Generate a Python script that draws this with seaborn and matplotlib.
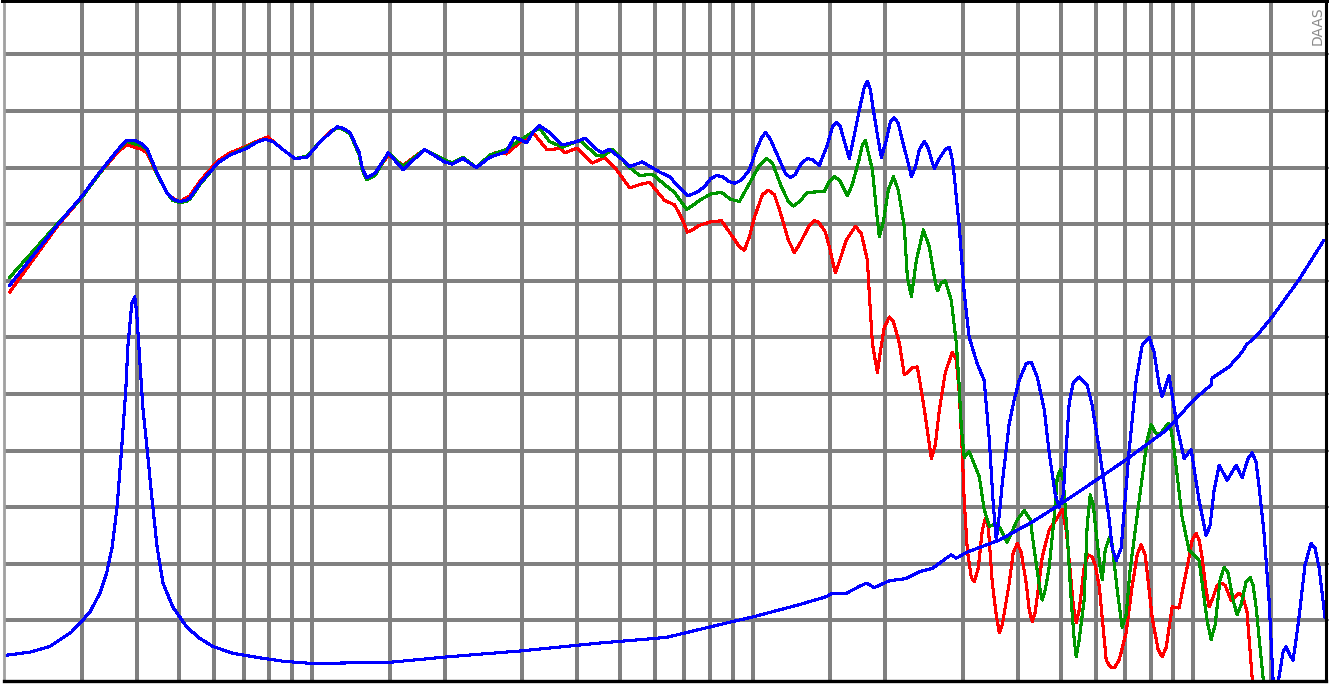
import pandas as pd
import seaborn as sns
import matplotlib.pyplot as plt
from matplotlib.ticker import FixedLocator, NullLocator

# SPL traces (Hz, dB), low band and high band
red_freq_lo = [20.6, 26.4, 30.1, 33.0, 36.3, 38.0, 41.1, 42.2, 44.5, 46.8,
               48.3, 50.1, 51.7, 52.8, 55.7, 61.1, 65.1, 71.1, 74.6, 79.4,
               85.8, 91.4, 97.3, 104, 110, 114, 117, 122, 128, 130,
               133, 136, 139, 149, 161, 180, 200, 208, 220, 236,
               260, 276, 296, 317, 341, 350, 365, 374, 399, 433,
               461, 491]
red_db_lo = [74.0, 79.8, 82.4, 84.5, 86.4, 87.0, 86.6, 86.3, 84.4, 82.8,
             82.3, 82.0, 82.3, 82.5, 83.8, 85.6, 86.3, 86.9, 87.3, 87.7,
             86.6, 85.8, 86.0, 87.2, 88.2, 88.5, 88.4, 88.0, 86.1, 85.0,
             84.1, 84.3, 84.5, 86.1, 85.2, 86.6, 85.5, 85.3, 85.8, 85.0,
             86.3, 86.2, 87.2, 88.1, 86.6, 86.6, 86.7, 86.3, 86.7, 85.4,
             85.9, 84.8]
red_freq_hi = [526, 554, 583, 631, 665, 693, 711, 730, 757, 802,
               850, 900, 933, 958, 983, 1009, 1052, 1086, 1120, 1150,
               1205, 1243, 1276, 1345, 1380, 1410, 1462, 1493, 1540, 1573,
               1631, 1710, 1764, 1821, 1839, 1869, 1918, 1948, 1989, 2042,
               2086, 2152, 2208, 2244, 2302, 2364, 2402, 2453, 2544, 2597,
               2652, 2736, 2838, 2898, 2943, 2990, 3020, 3070, 3134, 3184,
               3250, 3320, 3373, 3426, 3498, 3570, 3628, 3684, 3821, 3902,
               3986, 4068, 4176, 4243, 4310, 4377, 4540, 4708, 4884, 5040,
               5146, 5227, 5338, 5422, 5508, 5652, 5772, 5894, 5988, 6116,
               6342, 6476, 6612, 6786, 7038, 7262, 7457, 7612, 7774, 8060,
               8320, 8495, 8676, 8952, 9284, 9780, 9936, 10144, 10304, 10466,
               10690, 10858, 11028, 11322, 11560, 11804, 12178, 12438, 12698, 12968,
               13240, 13592, 13804]
red_db_hi = [83.2, 83.5, 83.7, 82.1, 81.7, 80.4, 79.3, 79.5, 79.9, 80.2,
             80.3, 78.9, 78.0, 77.7, 78.9, 80.6, 82.6, 83.0, 82.6, 81.3,
             78.6, 77.5, 78.2, 79.9, 80.3, 80.2, 79.3, 78.0, 75.7, 76.7,
             78.6, 79.8, 79.2, 76.8, 73.9, 69.5, 66.9, 68.7, 70.9, 71.8,
             71.4, 69.5, 66.7, 66.9, 67.3, 67.4, 65.8, 63.6, 59.3, 60.5,
             63.6, 66.9, 68.7, 68.0, 65.1, 59.8, 55.6, 51.2, 48.8, 48.4,
             49.6, 53.0, 54.0, 53.2, 48.3, 45.5, 43.9, 44.6, 48.3, 51.0,
             51.8, 51.0, 48.3, 45.9, 44.9, 45.7, 50.6, 53.0, 53.9, 54.8,
             53.0, 50.3, 46.4, 44.8, 45.9, 49.7, 50.8, 50.6, 49.9, 48.0,
             41.5, 40.9, 40.8, 41.5, 43.9, 48.0, 50.8, 51.7, 50.8, 45.3,
             42.4, 41.8, 42.6, 46.2, 46.1, 50.6, 52.1, 52.7, 52.1, 50.6,
             47.7, 46.2, 46.8, 48.1, 48.3, 48.1, 46.8, 47.1, 47.4, 47.1,
             45.7, 40.0, 38.0]

green_freq_lo = [20.6, 26.4, 30.1, 33.0, 36.3, 38.0, 41.1, 42.2, 44.5, 46.8,
                 48.3, 50.1, 51.7, 52.8, 55.7, 61.1, 65.1, 71.1, 74.6, 78.1,
                 81.5, 85.8, 91.4, 97.3, 104, 110, 114, 117, 122, 128,
                 130, 133, 136, 139, 149, 161, 180, 200, 208, 220,
                 236, 253, 276, 296, 328, 346, 370, 405, 442, 456,
                 481, 526]
green_db_lo = [75.3, 80.0, 82.4, 84.5, 86.6, 87.3, 86.9, 86.6, 84.4, 82.8,
               82.1, 81.9, 82.0, 82.2, 83.5, 85.4, 86.1, 86.8, 87.2, 87.5,
               87.3, 86.6, 85.8, 86.0, 87.2, 88.1, 88.5, 88.4, 88.0, 86.1,
               84.8, 83.9, 84.1, 84.3, 86.3, 85.1, 86.6, 85.7, 85.4, 85.9,
               85.0, 86.1, 86.6, 87.4, 88.5, 87.3, 86.8, 87.4, 86.1, 86.0,
               86.6, 85.0]
green_freq_hi = [554, 593, 631, 665, 708, 734, 757, 806, 850, 891,
                 933, 993, 1036, 1075, 1109, 1162, 1205, 1237, 1277, 1331,
                 1454, 1493, 1532, 1573, 1640, 1683, 1746, 1774, 1802, 1869,
                 1908, 1938, 1979, 2031, 2086, 2140, 2208, 2244, 2292, 2352,
                 2440, 2516, 2584, 2625, 2679, 2736, 2822, 2898, 2943, 2974,
                 3020, 3100, 3268, 3352, 3444, 3590, 3782, 3986, 4134, 4265,
                 4356, 4471, 4540, 4612, 4708, 4832, 4910, 4988, 5066, 5172,
                 5282, 5366, 5422, 5508, 5652, 5742, 5834, 5926, 6020, 6148,
                 6212, 6308, 6442, 6544, 6716, 6894, 7038, 7188, 7534, 7854,
                 8020, 8190, 8362, 8540, 8766, 8904, 9044, 9430, 9780, 10304,
                 10746, 10972, 11204, 11500, 11744, 11990, 12308, 12566, 12834, 13170,
                 13450, 13664, 13878, 14390, 14616]
green_db_hi = [84.3, 84.4, 83.5, 82.8, 81.3, 81.7, 82.1, 82.7, 82.8, 82.2,
               82.0, 83.9, 85.2, 85.8, 85.4, 83.3, 82.0, 81.6, 82.0, 82.8,
               82.9, 83.8, 84.2, 83.9, 82.5, 83.5, 85.8, 87.0, 87.4, 84.8,
               81.3, 78.9, 80.2, 83.0, 84.2, 83.0, 79.8, 75.3, 73.6, 76.8,
               79.5, 78.0, 75.3, 74.1, 74.8, 75.0, 73.3, 69.5, 65.6, 62.1,
               59.4, 59.9, 57.7, 54.8, 53.3, 53.6, 51.9, 53.9, 54.7, 53.9,
               51.2, 48.1, 46.8, 47.7, 49.7, 54.1, 57.6, 58.3, 57.4, 52.7,
               46.8, 43.3, 41.8, 43.3, 46.8, 53.4, 56.1, 55.2, 52.7, 49.6,
               48.6, 51.2, 52.3, 51.7, 47.7, 44.4, 45.5, 49.5, 55.6, 60.9,
               62.3, 61.6, 61.4, 61.8, 62.4, 61.8, 60.1, 54.1, 51.2, 50.3,
               45.0, 43.3, 44.6, 48.6, 49.7, 49.2, 46.8, 45.5, 46.4, 48.4,
               48.8, 48.1, 46.2, 40.0, 38.0]

blue_freq_lo = [20.6, 26.4, 30.1, 33.0, 34.8, 36.3, 38.0, 39.6, 41.1, 42.2,
                44.5, 46.8, 48.3, 50.1, 51.7, 52.8, 55.7, 61.1, 65.1, 71.1,
                74.6, 78.1, 81.5, 85.8, 91.4, 97.3, 104, 110, 114, 117,
                122, 128, 130, 133, 136, 139, 149, 161, 180, 200,
                208, 220, 236, 253, 276, 288, 299, 307, 317, 328,
                346, 370, 399, 416, 442, 456, 473, 499, 526, 562,
                615]
blue_db_lo = [74.6, 79.9, 82.5, 84.6, 85.7, 86.6, 87.4, 87.4, 87.1, 86.7,
              84.5, 82.8, 82.2, 82.0, 82.1, 82.3, 83.6, 85.4, 86.1, 86.7,
              87.2, 87.5, 87.3, 86.6, 85.8, 85.9, 87.2, 88.1, 88.6, 88.5,
              88.1, 86.3, 85.0, 84.1, 84.3, 84.5, 86.3, 84.8, 86.6, 85.5,
              85.3, 85.8, 85.0, 85.9, 86.4, 87.7, 87.4, 87.2, 88.1, 88.7,
              88.1, 87.0, 87.3, 87.6, 86.6, 86.3, 86.6, 85.9, 85.1, 85.5,
              84.6]
blue_freq_hi = [647, 711, 746, 777, 802, 828, 854, 881, 909, 943,
                983, 1020, 1047, 1069, 1097, 1150, 1186, 1218, 1250, 1290,
                1331, 1366, 1417, 1477, 1517, 1549, 1581, 1623, 1657, 1701,
                1746, 1792, 1821, 1849, 1878, 1928, 1959, 2010, 2052, 2096,
                2140, 2198, 2244, 2292, 2339, 2389, 2453, 2503, 2544, 2584,
                2652, 2736, 2795, 2838, 2868, 2943, 3020, 3100, 3232, 3352,
                3444, 3516, 3570, 3628, 3684, 3821, 3922, 4026, 4176, 4288,
                4424, 4589, 4708, 4860, 4960, 5066, 5227, 5338, 5508, 5742,
                5894, 6116, 6442, 6544, 6684, 6858, 7153, 7418, 7654, 7935,
                8148, 8362, 8495, 8812, 9188, 9528, 9884, 10304, 10690, 10916,
                11146, 11441, 11932, 12505, 12902, 13312, 13592, 13878, 14098, 14470,
                14852, 15246, 15488, 15648, 15980, 16231, 16574, 16836, 17102, 17372,
                17924, 18493, 18884, 19281, 19894]
blue_db_hi = [84.2, 82.5, 82.8, 83.3, 84.0, 84.3, 84.2, 83.8, 83.6, 83.9,
              84.8, 86.6, 87.6, 88.1, 87.5, 85.7, 84.5, 84.1, 84.4, 85.4,
              85.8, 85.7, 85.2, 87.0, 88.6, 89.0, 88.6, 87.0, 85.8, 87.9,
              90.1, 92.1, 92.6, 91.9, 90.1, 87.4, 85.9, 87.4, 89.0, 89.4,
              88.9, 87.0, 85.7, 84.2, 85.0, 86.6, 87.3, 86.7, 85.7, 84.9,
              85.8, 86.6, 86.8, 85.7, 84.2, 79.8, 73.9, 70.0, 67.7, 66.2,
              60.9, 55.2, 52.1, 54.3, 57.1, 62.4, 64.5, 66.2, 67.7, 67.8,
              66.5, 63.6, 59.8, 56.1, 55.0, 56.1, 64.2, 66.0, 66.5, 65.8,
              64.0, 60.1, 53.9, 51.4, 50.3, 51.4, 60.1, 66.2, 69.3, 70.0,
              68.7, 65.8, 64.8, 66.6, 62.1, 59.3, 60.1, 55.6, 52.5, 53.4,
              56.5, 58.7, 57.4, 58.7, 57.6, 59.3, 59.8, 59.0, 56.8, 52.7,
              46.8, 38.0, 38.0, 40.0, 42.2, 42.7, 41.9, 41.5, 43.3, 45.3,
              49.9, 51.8, 51.4, 49.7, 45.3]

# impedance trace, read on the same grid
imp_freq = [20, 22.9, 25.4, 28.5, 30.1, 31.3, 33.0, 34.2, 35.2, 36.1,
            37.0, 37.8, 38.2, 39.0, 39.6, 40.0, 40.7, 41.3, 42.2, 43.3,
            44.5, 45.9, 48.3, 52.0, 55.7, 59.6, 66.1, 76.1, 85.8, 100,
            150, 205, 296, 449, 637, 757, 900, 999, 1277, 1470,
            1516, 1631, 1746, 1811, 1888, 2042, 2231, 2389, 2558, 2750,
            2822, 2898, 3053, 3628, 4310, 4960, 5712, 7038, 8676, 10032,
            10972, 11028, 12052, 12902, 13170, 14098, 15090, 17372, 19794]
imp_db = [41.9, 42.2, 42.7, 44.0, 45.0, 45.7, 47.4, 49.2, 51.5, 55.0,
          60.3, 65.4, 69.2, 73.0, 73.6, 72.2, 67.7, 63.9, 60.3, 55.9,
          51.5, 48.3, 46.2, 44.4, 43.4, 42.7, 42.1, 41.7, 41.4, 41.2,
          41.3, 41.8, 42.3, 43.0, 43.5, 44.2, 44.9, 45.3, 46.4, 47.1,
          47.4, 47.4, 48.0, 48.3, 47.9, 48.5, 48.7, 49.3, 49.6, 50.5,
          50.8, 50.5, 51.0, 52.1, 53.7, 55.2, 56.8, 59.2, 61.8, 64.5,
          65.8, 66.4, 67.4, 68.7, 69.3, 70.4, 71.8, 75.1, 78.6]

grid_freqs = [30, 40, 50, 60, 70, 80, 90, 100, 150, 200, 300, 400, 500, 600,
              700, 800, 900, 1000, 1500, 2000, 3000, 4000, 5000, 6000, 7000,
              8000, 9000, 10000, 15000]
grid_db = [45, 50, 55, 60, 65, 70, 75, 80, 85, 90, 95]

traces = [('red', red_freq_lo + red_freq_hi, red_db_lo + red_db_hi),
          ('green', green_freq_lo + green_freq_hi, green_db_lo + green_db_hi),
          ('blue', blue_freq_lo + blue_freq_hi, blue_db_lo + blue_db_hi),
          ('impedance', imp_freq, imp_db)]
df = pd.concat([pd.DataFrame({'freq': f, 'level': l, 'trace': n}) for n, f, l in traces],
               ignore_index=True)

sns.set_theme(style='white')

fig = plt.figure(figsize=(13.3, 6.84), dpi=100)
ax = fig.add_axes([4 / 1330, 3 / 684, 1322 / 1330, 681 / 684])

palette = {'red': '#ff0000', 'green': '#009600', 'blue': '#0000ff', 'impedance': '#0000ff'}
sns.lineplot(data=df, x='freq', y='level', hue='trace',
             hue_order=['red', 'green', 'blue', 'impedance'], palette=palette,
             estimator=None, sort=False, legend=False, linewidth=1.5,
             antialiased=False, ax=ax)

ax.set_xscale('log')
ax.set_xlim(20, 20000)
ax.set_ylim(39.65, 99.8)
ax.xaxis.set_major_locator(FixedLocator(grid_freqs))
ax.xaxis.set_minor_locator(NullLocator())
ax.yaxis.set_major_locator(FixedLocator(grid_db))
ax.set_xticklabels([])
ax.set_yticklabels([])
ax.set_xlabel('')
ax.set_ylabel('')
ax.set_axisbelow(True)
ax.grid(True, color='#808080', linewidth=1.5, antialiased=False)
ax.tick_params(axis='x', length=0)
ax.tick_params(axis='y', left=False, right=True, direction='out',
               length=2.5, width=1.5, color='#808080')

ax.spines['top'].set_color('black')
ax.spines['top'].set_linewidth(4.3)
ax.spines['right'].set_color('black')
ax.spines['right'].set_linewidth(2.2)
ax.spines['bottom'].set_color('black')
ax.spines['bottom'].set_linewidth(2.4)
ax.spines['left'].set_color('#a0a0a0')
ax.spines['left'].set_linewidth(2)

ax.text(0.9935, 0.962, 'DAAS', rotation=90, transform=ax.transAxes,
        ha='center', va='center', color='#8a8a8a', fontsize=10)

fig.savefig('out.png', dpi=100)
